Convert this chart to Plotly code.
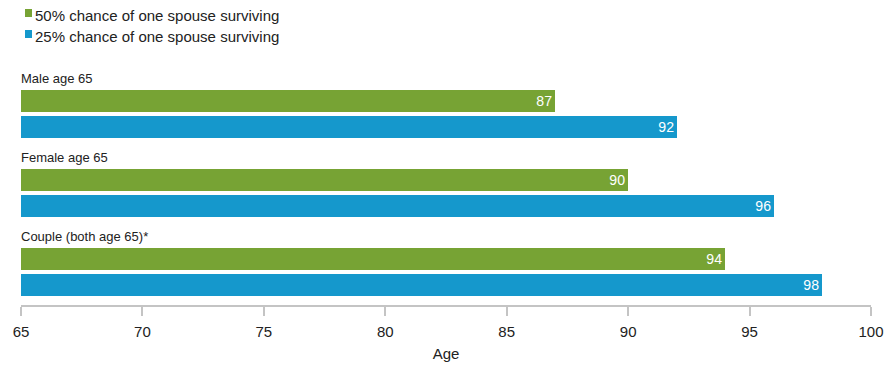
import plotly.graph_objects as go

groups = ["Male age 65", "Female age 65", "Couple (both age 65)*"]
series_names = ["50% chance of one spouse surviving", "25% chance of one spouse surviving"]
series_values = [[87, 90, 94], [92, 96, 98]]
colors = ["#77a334", "#1598cc"]
x_ticks = [65, 70, 75, 80, 85, 90, 95, 100]

FONT = "Liberation Sans, Arial, Helvetica, sans-serif"
BASE = 65

fig = go.Figure()
for j, (name, vals) in enumerate(zip(series_names, series_values)):
    ys = [3 * i + j for i in range(len(groups))]
    fig.add_trace(go.Bar(
        y=ys, x=[v - BASE for v in vals], base=BASE, orientation="h",
        name=name, marker=dict(color=colors[j], line=dict(width=0)),
        width=0.835, text=[str(v) for v in vals], textposition="inside",
        insidetextanchor="end", textangle=0,
        textfont=dict(color="white", size=15, family=FONT),
        hoverinfo="skip", showlegend=False,
    ))

annotations = []
for i, g in enumerate(groups):
    annotations.append(dict(x=BASE, y=3 * i - 0.84, xref="x", yref="y", text=g,
                            showarrow=False, xanchor="left", yanchor="middle",
                            xshift=-2,
                            font=dict(size=13, color="#222", family=FONT)))

shapes = []
for j, name in enumerate(series_names):
    top = 51 - j * 21
    shapes.append(dict(type="rect", xref="paper", yref="paper", xsizemode="pixel",
                       ysizemode="pixel", xanchor=0, yanchor=1, x0=4, x1=11,
                       y0=top - 8, y1=top, fillcolor=colors[j], line=dict(width=0)))
    annotations.append(dict(x=0, y=1, xref="paper", yref="paper", xshift=12,
                            yshift=top - 6, text=name, showarrow=False,
                            xanchor="left", yanchor="middle",
                            font=dict(size=15, color="#222", family=FONT)))

fig.update_layout(
    width=884, height=367,
    margin=dict(l=21, r=13, t=60, b=62, autoexpand=False),
    paper_bgcolor="white", plot_bgcolor="white",
    bargap=0, barmode="overlay",
    showlegend=False,
    annotations=annotations, shapes=shapes,
    font=dict(family=FONT, color="#222"),
    xaxis=dict(range=[65, 100], tickvals=x_ticks, showgrid=False, zeroline=False,
               automargin=False,
               showline=True, linecolor="#c4c4c4", linewidth=2,
               ticks="outside", ticklen=9, tickwidth=2, tickcolor="#c4c4c4",
               ticklabelstandoff=3,
               tickfont=dict(size=15, color="#222", family=FONT),
               title=dict(text="Age", font=dict(size=15, color="#222", family=FONT), standoff=9)),
    yaxis=dict(range=[7.75, -1.557], showticklabels=False, showgrid=False,
               automargin=False,
               zeroline=False, showline=False, ticks=""),
)

fig.write_html("out.html")
